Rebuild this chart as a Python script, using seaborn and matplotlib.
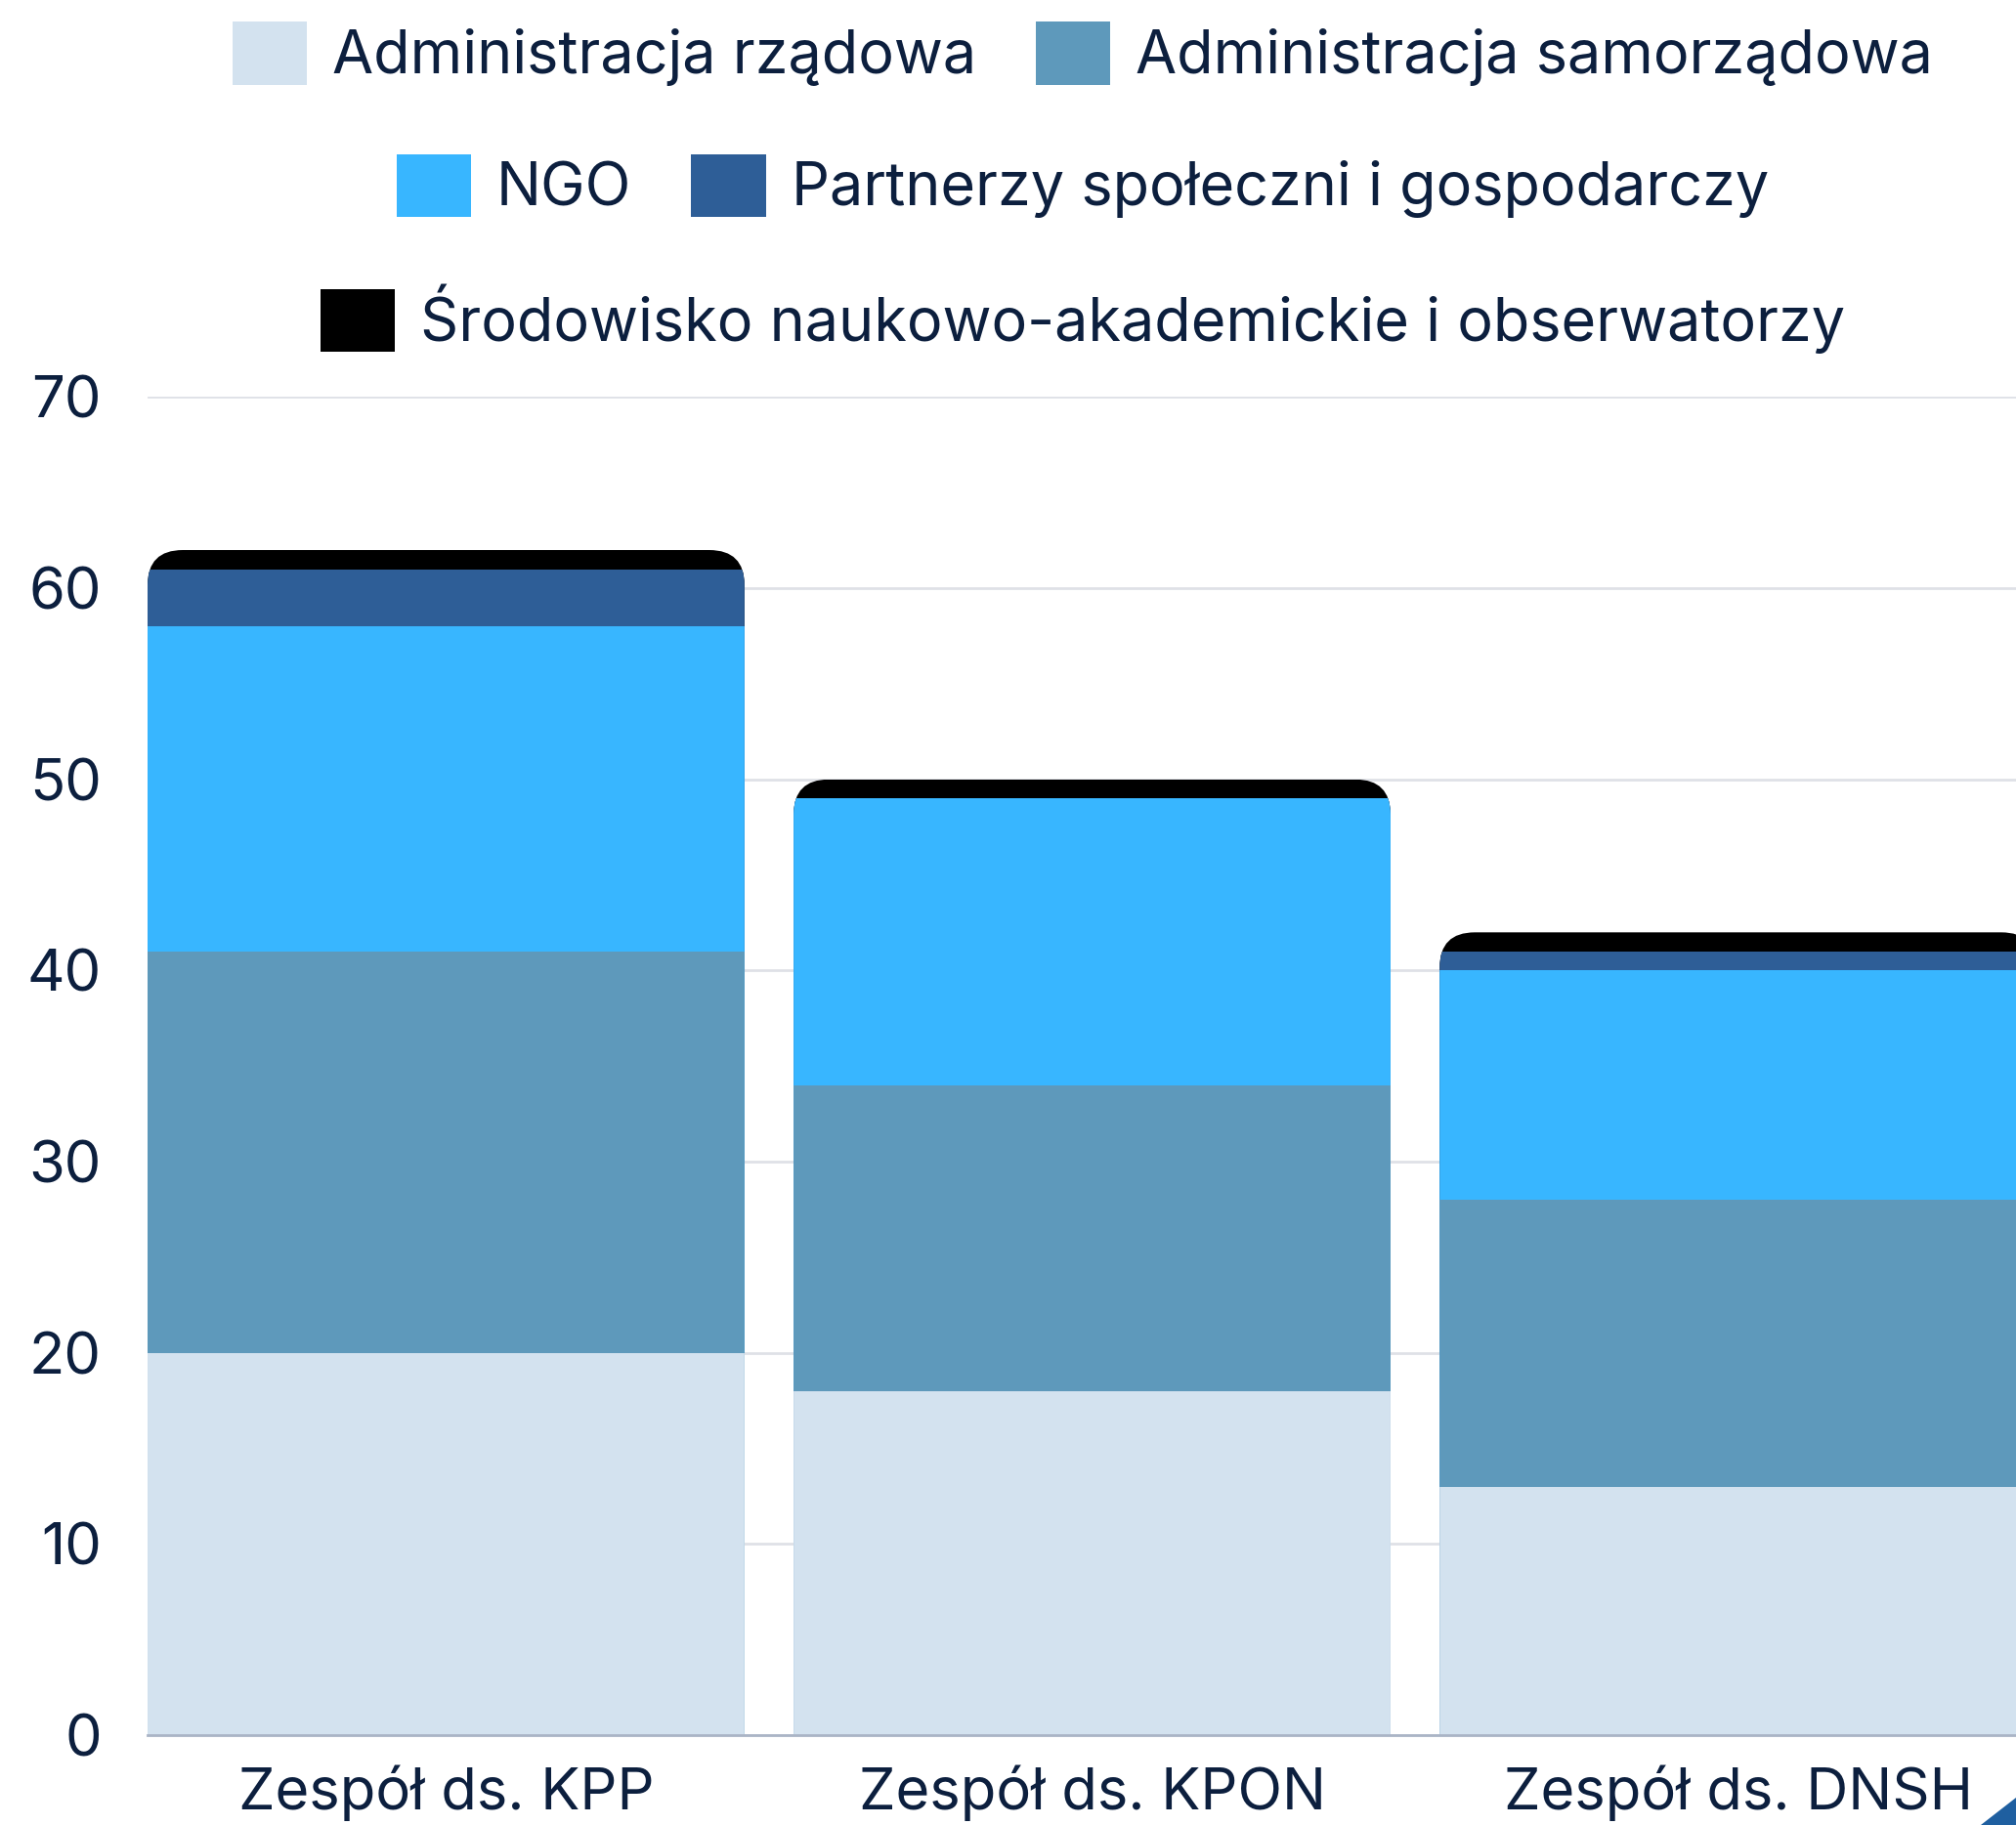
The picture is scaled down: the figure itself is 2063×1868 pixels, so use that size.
import numpy as np
import pandas as pd
import seaborn as sns
import matplotlib.pyplot as plt
from matplotlib.patches import Patch, FancyBboxPatch, Polygon

# data
teams = ["Zespół ds. KPP", "Zespół ds. KPON", "Zespół ds. DNSH"]
adm_rzadowa = [20, 18, 13]
adm_samorzadowa = [21, 16, 15]
ngo = [17, 15, 12]
partnerzy = [3, 0, 1]
srodowisko = [1, 1, 1]

groups = ["Administracja rządowa", "Administracja samorządowa", "NGO",
          "Partnerzy społeczni i gospodarczy",
          "Środowisko naukowo-akademickie i obserwatorzy"]
colors = ["#d3e2ef", "#5e99bb", "#38b6ff", "#2e5e97", "#000000"]
text_color = "#0c1f3e"

sns.set_theme(style="white")
plt.rcParams['font.family'] = ['Inter', 'DejaVu Sans']

df = pd.DataFrame({"team": teams, groups[0]: adm_rzadowa, groups[1]: adm_samorzadowa,
                   groups[2]: ngo, groups[3]: partnerzy, groups[4]: srodowisko})
cum = df[groups].cumsum(axis=1)

fig = plt.figure(figsize=(20.63, 18.68), dpi=100)
fig.patch.set_facecolor("white")
ax = fig.add_axes([0.0732, 0.0492, 0.937, 0.7332])
ax.set_facecolor("white")

bar_w = 0.924
# draw cumulative totals from top layer down so each layer sits on the one below
for g, c in zip(groups[::-1], colors[::-1]):
    sns.barplot(x=df["team"], y=cum[g], color=c, saturation=1, width=bar_w,
                linewidth=0, ax=ax)

ax.set_xlim(-bar_w / 2, 2 + bar_w / 2)
ax.set_ylim(0, 70)
ax.set_yticks(np.arange(0, 71, 10))
ax.yaxis.grid(True, color="#dfe1e7", linewidth=2)
ax.set_axisbelow(True)
for s in ["top", "right", "left"]:
    ax.spines[s].set_visible(False)
ax.spines["bottom"].set_color("#aab4c6")
ax.spines["bottom"].set_linewidth(2)
ax.tick_params(axis="y", length=0, pad=34, labelsize=43, labelcolor=text_color)
ax.tick_params(axis="x", length=0, pad=22, labelsize=43, labelcolor=text_color)
ax.set_xlabel("")
ax.set_ylabel("")

# rounded tops on each stack
fig_w, fig_h = fig.get_size_inches() * fig.dpi
bbox = ax.get_position()
xpp = (ax.get_xlim()[1] - ax.get_xlim()[0]) / (bbox.width * fig_w)
ypp = (ax.get_ylim()[1] - ax.get_ylim()[0]) / (bbox.height * fig_h)
radius_px = 36
totals = cum[groups[-1]].values
clips = []
for i, tot in enumerate(totals):
    box = FancyBboxPatch((i - bar_w / 2, -5), bar_w, tot + 5,
                         boxstyle=f"round,pad=0,rounding_size={radius_px * xpp}",
                         mutation_aspect=ypp / xpp, transform=ax.transData,
                         facecolor="none", edgecolor="none")
    clips.append(box)
for p in ax.patches:
    i = int(round(p.get_x() + p.get_width() / 2))
    p.set_clip_path(clips[i])

# legend rows, centred like the original
handles = [Patch(facecolor=c, edgecolor="none") for c in colors]
rows = [(0, 2, 0.9705), (2, 4, 0.898), (4, 5, 0.8255)]
for a, b, y in rows:
    leg = fig.legend(handles[a:b], groups[a:b], loc="center", bbox_to_anchor=(0.537, y),
                     ncol=b - a, frameon=False, fontsize=44, handlelength=1.25,
                     handleheight=1.25, handletextpad=0.42, columnspacing=1.0,
                     labelcolor=text_color)

# corner decoration
fig.patches.append(Polygon([[2027 / fig_w, 0], [1, 0], [1, 28 / fig_h]], closed=True,
                           transform=fig.transFigure, facecolor="#1f5fa0",
                           edgecolor="none"))

fig.savefig("out.png", dpi=100)
